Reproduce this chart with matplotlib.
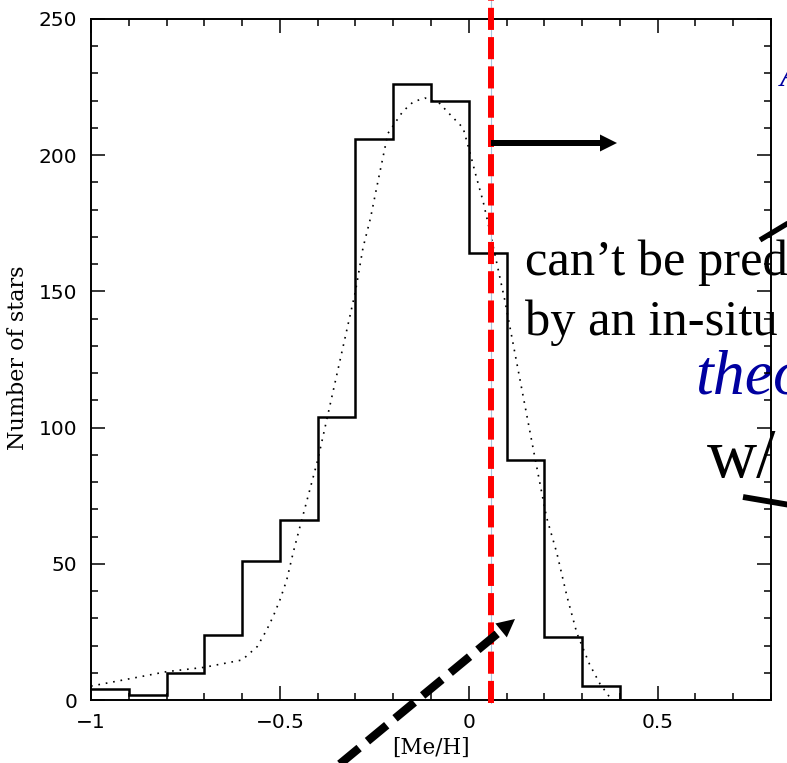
import matplotlib
matplotlib.use("Agg")
import matplotlib.pyplot as plt
import numpy as np
from matplotlib.lines import Line2D
from matplotlib.patches import FancyArrow
from matplotlib.transforms import IdentityTransform
from matplotlib.ticker import MultipleLocator

W, H = 787, 763

# Metallicity histogram, 0.1 dex bins
bin_edges = [-1.0, -0.9, -0.8, -0.7, -0.6, -0.5, -0.4, -0.3, -0.2, -0.1,
             0.0, 0.1, 0.2, 0.3, 0.4, 0.5, 0.6, 0.7, 0.8]
star_counts = [4, 2, 10, 24, 51, 66, 104, 206, 226, 220,
               164, 88, 23, 5, 0, 0, 0, 0]

# Smooth model distribution
model_feh = [-1.0, -0.89, -0.8, -0.7, -0.6, -0.56, -0.535, -0.518, -0.5, -0.482,
             -0.465, -0.45, -0.4, -0.35, -0.3, -0.28, -0.26, -0.244, -0.214,
             -0.175, -0.147, -0.116, -0.077, -0.05, -0.015, 0.003, 0.02, 0.038,
             0.056, 0.095, 0.135, 0.175, 0.206, 0.233, 0.26, 0.286, 0.32,
             0.347, 0.373]
model_n = [5.1, 8, 10.4, 12, 14.7, 19.6, 25.7, 30.6, 36.7, 44,
           54, 62, 88, 119, 150, 166, 177, 188, 208,
           216, 219.6, 221, 219, 215, 210, 201, 192, 183,
           172, 147, 118, 89, 67, 54, 38, 24.6, 13,
           6, 1]

cut_feh = 0.058

xtick_vals = [-1.0, -0.5, 0.0, 0.5]
xtick_labels = ["\u22121", "\u22120.5", "0", "0.5"]
ytick_vals = [0, 50, 100, 150, 200, 250]
ytick_labels = ["0", "50", "100", "150", "200", "250"]

fig = plt.figure(figsize=(W / 100, H / 100), dpi=100)
fig.patch.set_facecolor("white")
ax = fig.add_axes([91 / W, 63 / H, 680 / W, 681 / H])

ax.stairs(star_counts, bin_edges, baseline=None, color="black", lw=1.8, zorder=3)
ax.plot(model_feh, model_n, color="black", lw=1.2, ls=(0, (1, 3.5)), zorder=3)

ax.set_xlim(-1.0, 0.8)
ax.set_ylim(0, 250)
ax.set_xticks(xtick_vals, xtick_labels)
ax.set_yticks(ytick_vals, ytick_labels)
ax.xaxis.set_minor_locator(MultipleLocator(0.1))
ax.yaxis.set_minor_locator(MultipleLocator(10))
ax.tick_params(which="both", direction="in", top=True, right=True, width=1.1,
               color="black")
ax.tick_params(which="major", length=10, labelsize=14.5)
ax.tick_params(axis="y", which="major", pad=10)
ax.tick_params(axis="x", which="major", pad=9.5)
ax.tick_params(which="minor", length=5)
for lab in ax.get_xticklabels() + ax.get_yticklabels():
    lab.set_family("DejaVu Sans")
for sp in ax.spines.values():
    sp.set_linewidth(1.4)

ax.set_xlabel("[Me/H]", family="DejaVu Serif", fontsize=15.5)
ax.set_ylabel("Number of stars", family="DejaVu Serif", fontsize=16)
ax.xaxis.set_label_coords(0.5, -(748 - 700) / 681, transform=ax.transAxes)
ax.yaxis.set_label_coords(-(91 - 18) / 680, 0.5 - (357.5 - 359.5) / 681)
ax.xaxis.label.set_va("center")
ax.yaxis.label.set_va("center")

# Metallicity cut
ax.plot([cut_feh, cut_feh], [-1.1, 258], color="#a9c6de", lw=0.8,
        clip_on=False, zorder=4)
ax.plot([cut_feh, cut_feh], [-1.1, 258], color="red", lw=4.3,
        dashes=(3.7, 1.2), dash_capstyle="butt", clip_on=False, zorder=5)

# Overlaid annotation text
def ftext(x, y, s, **kw):
    ax.text(x / W, 1 - y / H, s, transform=fig.transFigure, clip_on=False,
            zorder=1, va="baseline", ha="left", **kw)

ftext(525, 275, "can\u2019t be pred", family="Liberation Serif",
      fontsize=36.4, color="black")
ftext(525, 335, "by an in-situ", family="Liberation Serif",
      fontsize=36.4, color="black")
ftext(695, 394, "theo", family="Liberation Serif", style="italic",
      fontsize=46, color="#0000a0")
ftext(707, 477, "w/", family="Liberation Serif", fontsize=50, color="black")
ftext(780, 86, "A", family="Liberation Serif", style="italic",
      fontsize=24, color="#0000a0")

pix = IdentityTransform()
# Solid arrow pointing right from the cut
fig.add_artist(FancyArrow(491, H - 143, 126, 0, width=6, head_width=17,
                          head_length=17, length_includes_head=True,
                          color="black", lw=0, transform=pix))
# Dashed arrow pointing to the cut
fig.add_artist(Line2D([335, 503], [H - 768, H - 629], transform=pix,
                      color="black", lw=6.0, dashes=(3.0, 1.3),
                      dash_capstyle="butt"))
fig.add_artist(FancyArrow(501, H - 630.5, 14, 11.5, width=0.1, head_width=18,
                          head_length=18, length_includes_head=True,
                          color="black", lw=0, transform=pix))
# Pen strokes at the right edge
fig.add_artist(Line2D([760, 790], [H - 240, H - 222], transform=pix,
                      color="black", lw=3.8, solid_capstyle="butt"))
fig.add_artist(Line2D([743, 790], [H - 497, H - 505], transform=pix,
                      color="black", lw=4.2, solid_capstyle="butt"))

fig.savefig("out.png", dpi=100)
